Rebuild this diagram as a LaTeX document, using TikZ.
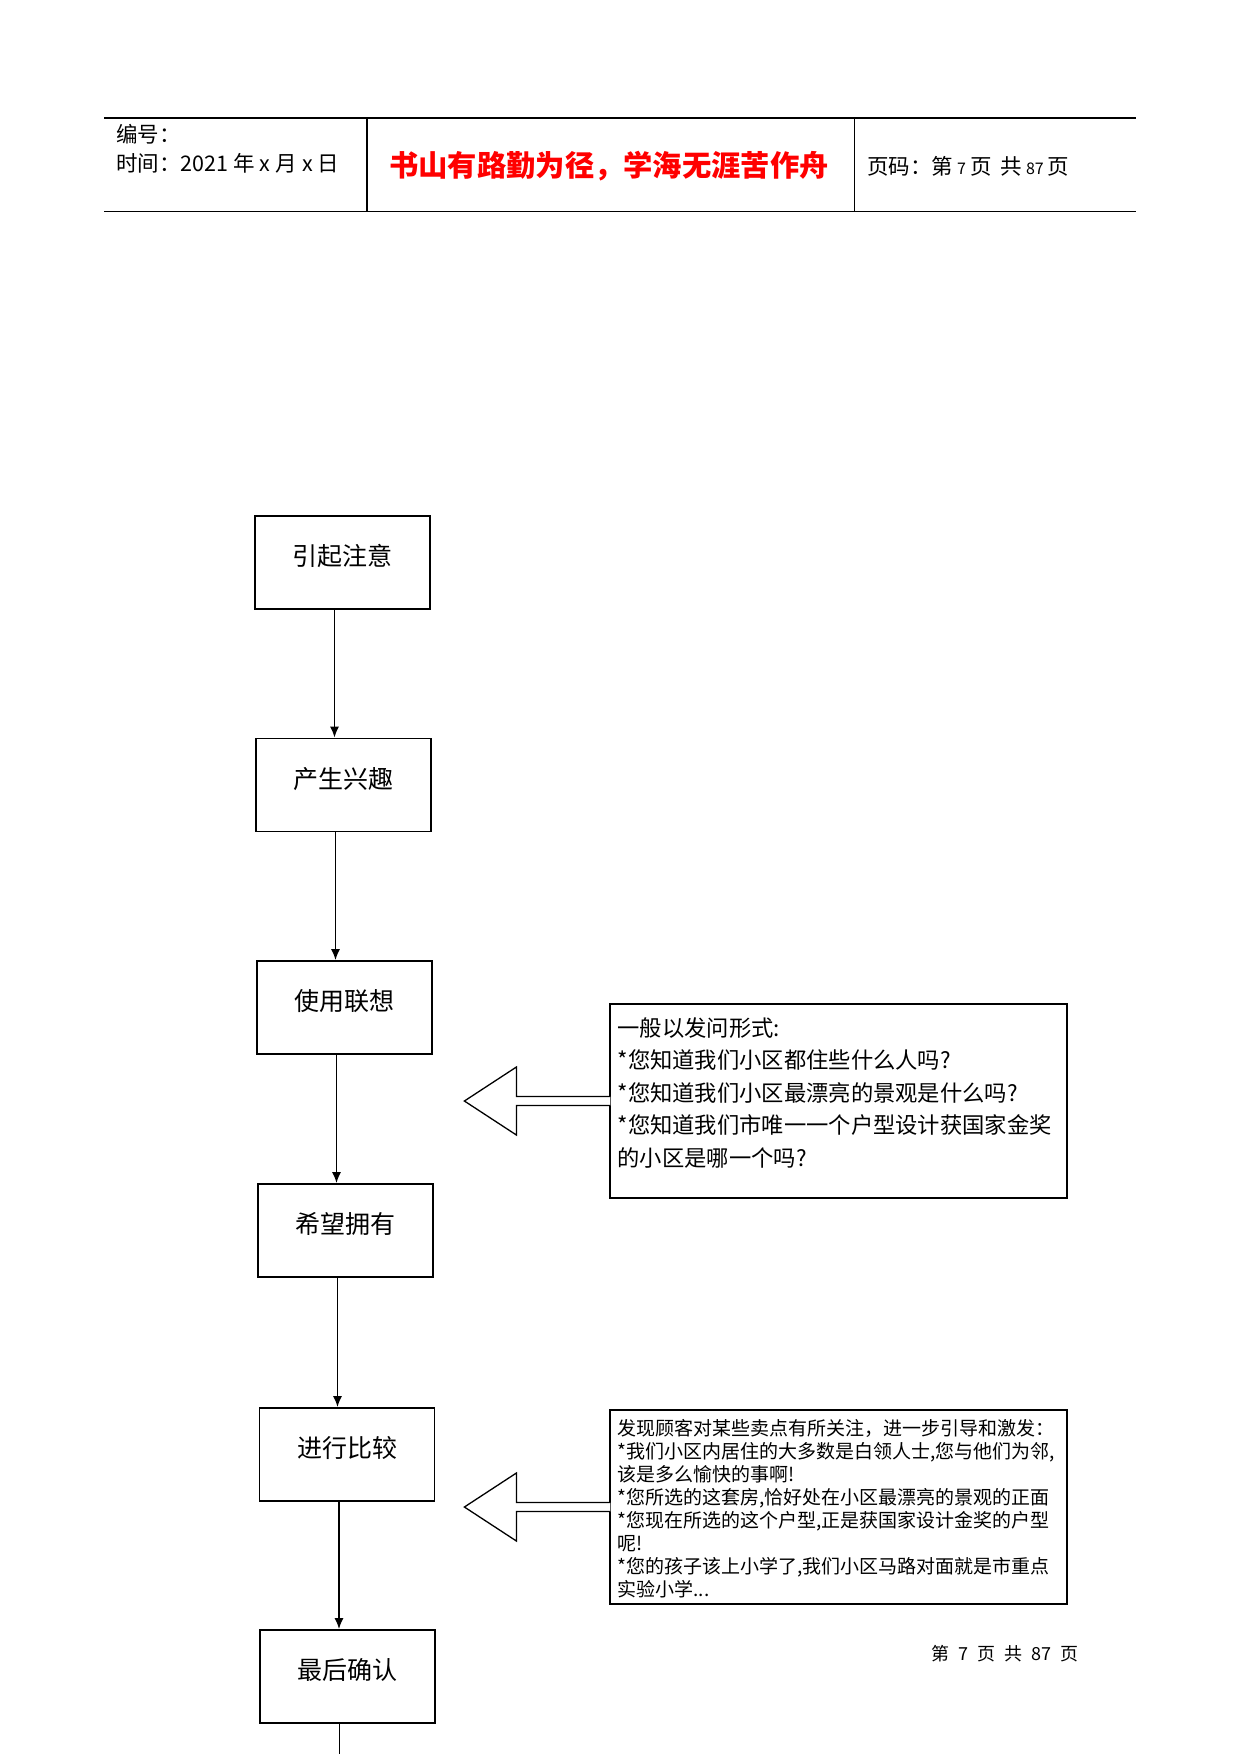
\documentclass[tikz,border=0pt]{standalone}
\usepackage{fontspec}
\setmainfont{Noto Sans CJK SC}
\usetikzlibrary{arrows.meta}
\tikzset{
  flowbox/.style={draw, line width=1.8pt, minimum width=175pt, minimum height=93pt, inner sep=0pt, text depth=15pt, font=\fontsize{25}{29}\selectfont},
  tbox/.style={draw, line width=1.2pt, minimum width=457pt, minimum height=194pt, inner sep=0pt},
  conn/.style={line width=1.5pt, -{Latex[length=11pt,width=9pt]}},
  barrow/.style={draw, fill=white, line width=1.3pt, line join=miter},
  hline/.style={line width=1.4pt},
  hdr/.style={anchor=west, inner sep=0pt, font=\fontsize{21.5}{25}\selectfont},
}
\begin{document}
\begin{tikzpicture}[x=1pt,y=-1pt]
\useasboundingbox[fill=white] (0,0) rectangle (1241,1754);

% header table
\draw[hline] (104,118) -- (1136,118);
\draw[hline] (104,211.5) -- (1136,211.5);
\draw[hline] (367,118) -- (367,211.5);
\draw[line width=1pt] (854,118) -- (854,211.5);
\node[hdr] (hno) at (116,134) {编号：};
\node[hdr] (htime) at (116,163) {时间：2021\hspace{5pt}年\hspace{5pt}x\hspace{5pt}月\hspace{5pt}x\hspace{5pt}日};
\node[inner sep=0pt, text=red, font=\fontsize{29.3}{33}\selectfont\bfseries] (motto) at (609,166) {书山有路勤为径，学海无涯苦作舟};
\node[hdr] (hpage) at (867,166) {页码：第\hspace{4pt}{\fontsize{16}{18}\selectfont 7}\hspace{4pt}页\hspace{9pt}共\hspace{4pt}{\fontsize{16}{18}\selectfont 87}\hspace{4pt}页};

% flow boxes
\node[flowbox] (b1) at (342.5,562.5) {引起注意};
\node[flowbox] (b2) at (343.5,785) {产生兴趣};
\node[flowbox] (b3) at (344.5,1007.5) {使用联想};
\node[flowbox] (b4) at (345.5,1230.5) {希望拥有};
\node[flowbox] (b5) at (347,1454.5) {进行比较};
\node[flowbox] (b6) at (347.5,1676.5) {最后确认};
\coordinate (pend) at (339.5,1754);

\draw[conn] ([xshift=-8pt]b1.south) -- ([xshift=-8pt]b1.south |- b2.north);
\draw[conn] ([xshift=-8pt]b2.south) -- ([xshift=-8pt]b2.south |- b3.north);
\draw[conn] ([xshift=-8pt]b3.south) -- ([xshift=-8pt]b3.south |- b4.north);
\draw[conn] ([xshift=-8pt]b4.south) -- ([xshift=-8pt]b4.south |- b5.north);
\draw[conn] ([xshift=-8pt]b5.south) -- ([xshift=-8pt]b5.south |- b6.north);
\draw[line width=1.5pt] ([xshift=-8pt]b6.south) -- (pend);

% text boxes
\node[tbox] (ta) at (838.5,1101) {};
\node[anchor=north west, inner sep=0pt, align=left, font=\fontsize{22.3}{32.5}\selectfont] (tatext) at ([xshift=8pt,yshift=-14pt]ta.north west)
 {一般以发问形式:\\
  *您知道我们小区都住些什么人吗?\\
  *您知道我们小区最漂亮的景观是什么吗?\\
  *您知道我们市唯一一个户型设计获国家金奖\\
  的小区是哪一个吗?};

\node[tbox] (tb) at (838.5,1507) {};
\node[anchor=north west, inner sep=0pt, align=left, font=\fontsize{19}{22.9}\selectfont] (tbtext) at ([xshift=8pt,yshift=-10pt]tb.north west)
 {发现顾客对某些卖点有所关注，进一步引导和激发：\\
  *我们小区内居住的大多数是白领人士,您与他们为邻,\\
  该是多么愉快的事啊!\\
  *您所选的这套房,恰好处在小区最漂亮的景观的正面\\
  *您现在所选的这个户型,正是获国家设计金奖的户型\\
  呢!\\
  *您的孩子该上小学了,我们小区马路对面就是市重点\\
  实验小学...};

% block arrows
\draw[barrow] ([xshift=1pt,yshift=4.5pt]ta.west) -- ++(-94,0) -- ++(0,-29.5) -- ++(-52,34) -- ++(52,34) -- ++(0,-29.5) -- ++(94,0);
\draw[barrow] ([xshift=1pt,yshift=4.5pt]tb.west) -- ++(-94,0) -- ++(0,-29.5) -- ++(-52,34) -- ++(52,34) -- ++(0,-29.5) -- ++(94,0);

% footer
\node[anchor=west, inner sep=0pt, font=\fontsize{18}{21}\selectfont] (foot) at (931,1654) {第\hspace{9pt}7\hspace{9pt}页\hspace{9pt}共\hspace{9pt}87\hspace{9pt}页};
\end{tikzpicture}
\end{document}
